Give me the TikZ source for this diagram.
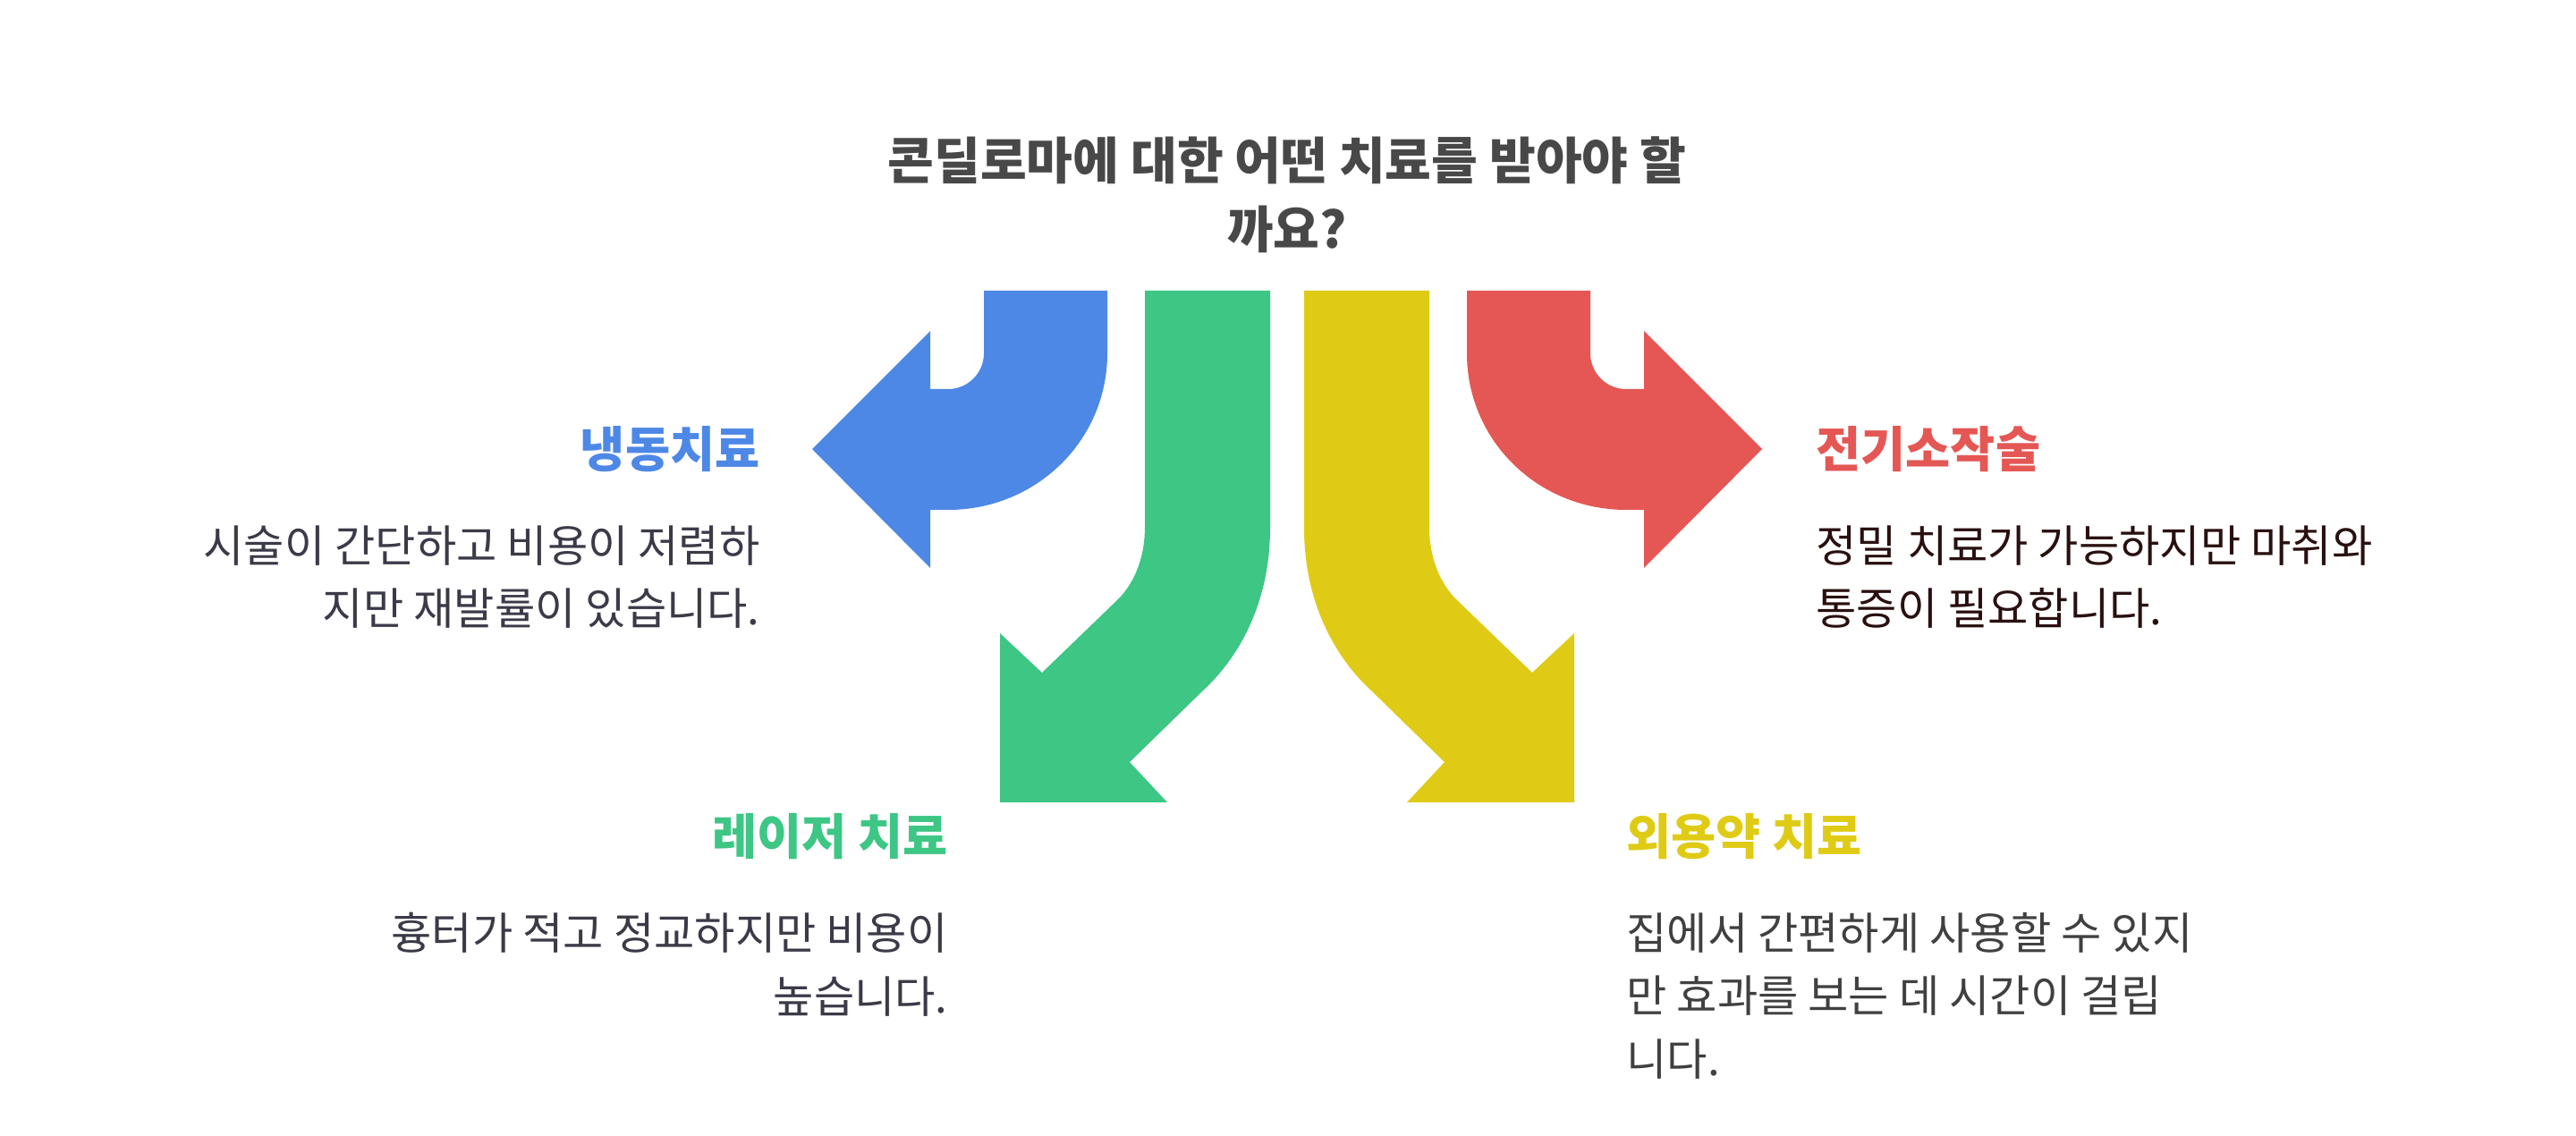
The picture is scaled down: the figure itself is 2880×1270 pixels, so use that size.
\documentclass[tikz,border=0pt]{standalone}
\usepackage{fontspec}
\setmainfont{Noto Sans CJK KR}
\newfontfamily\krb{Noto Sans CJK KR Bold}
\definecolor{cblue}{HTML}{4E88E6}
\definecolor{cgreen}{HTML}{3DC684}
\definecolor{cyel}{HTML}{DFCB15}
\definecolor{cred}{HTML}{E45754}
\definecolor{ctitle}{HTML}{484848}
\definecolor{cbody}{HTML}{3A3A48}
\begin{document}
\begin{tikzpicture}[x=0.01cm,y=-0.01cm,
  ttl/.style={font=\fontsize{16}{22}\selectfont\bfseries, text=ctitle, align=center},
  lbl/.style={font=\fontsize{15.5}{20}\selectfont\bfseries},
  body/.style={font=\fontsize{14}{20}\selectfont, text=cbody}]
\useasboundingbox (0,0) rectangle (2880,1270);
\def\bluepath{(1100,325) -- (1238,325) -- (1238,395) .. controls (1238,493) and (1158,570) .. (1060,570) -- (1040,570) -- (1040,635) -- (908,502) -- (1040,370) -- (1040,435) -- (1060,435) .. controls (1082,435) and (1100,417) .. (1100,395) -- cycle}
\def\greenpath{(1280,325) -- (1420,325) -- (1420,590) .. controls (1420,680) and (1380,740) .. (1345,772) -- (1263,852) -- (1305,897) -- (1118,897) -- (1118,708) -- (1165,752) -- (1250,670) .. controls (1270,650) and (1280,620) .. (1280,590) -- cycle}
\fill[cblue] \bluepath;
\fill[cgreen] \greenpath;
\begin{scope}[shift={(2878,0)},xscale=-1]
\fill[cred] \bluepath;
\fill[cyel] \greenpath;
\end{scope}
\node[ttl] (title) at (1439,218) {콘딜로마에 대한 어떤 치료를 받아야 할\\까요?};
\node[lbl,text=cblue,anchor=east] (l1) at (862,502) {냉동치료};
\node[body,anchor=north east,align=right] (b1) at (862,575) {시술이 간단하고 비용이 저렴하\\지만 재발률이 있습니다.};
\node[lbl,text=cgreen,anchor=east] (l2) at (1072,935) {레이저 치료};
\node[body,anchor=north east,align=right] (b2) at (1072,1008) {흉터가 적고 정교하지만 비용이\\높습니다.};
\node[lbl,text=cred,anchor=west] (l3) at (2018,502) {전기소작술};
\node[body,anchor=north west,align=left,text=black!70!cred!60!black] (b3) at (2018,575) {정밀 치료가 가능하지만 마취와\\통증이 필요합니다.};
\node[lbl,text=cyel,anchor=west] (l4) at (1806,935) {외용약 치료};
\node[body,anchor=north west,align=left,text=black!75] (b4) at (1806,1008) {집에서 간편하게 사용할 수 있지\\만 효과를 보는 데 시간이 걸립\\니다.};
\end{tikzpicture}
\end{document}
